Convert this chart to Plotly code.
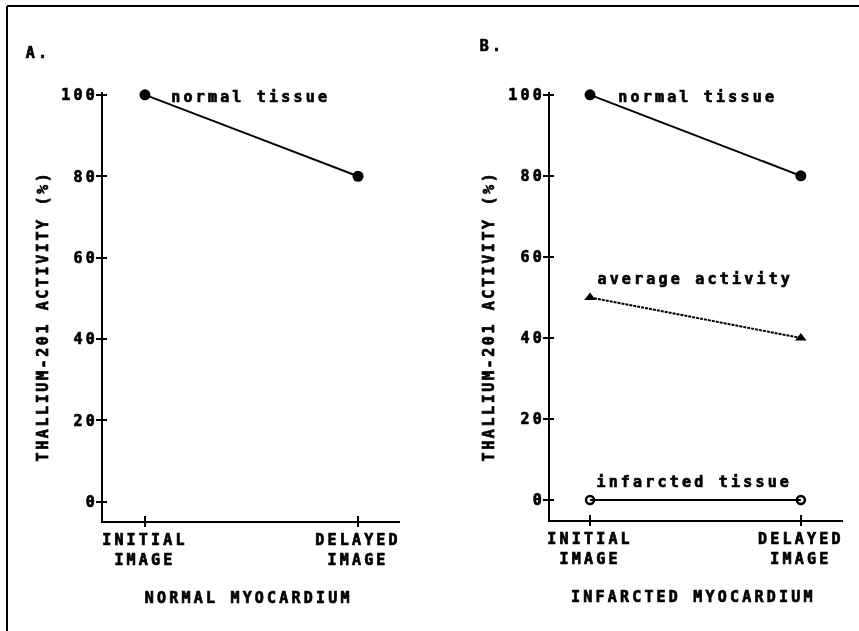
import plotly.graph_objects as go

# ---- data ----
categories = ["INITIAL<br>IMAGE", "DELAYED<br>IMAGE"]
normal_A = [100, 80]
normal_B = [100, 80]
average_B = [50, 40]
infarcted_B = [0, 0]
y_ticks = [0, 20, 40, 60, 80, 100]

W, H = 859, 631
FONT = "DejaVu Sans Mono"
BLACK = "#000000"


def px(x):
    return x / W


def py(y):
    return 1 - y / H


fig = go.Figure()

line_style = dict(color=BLACK, width=2)

fig.add_trace(go.Scatter(x=categories, y=normal_A, mode="lines+markers",
                         line=line_style,
                         marker=dict(symbol="circle", size=11, color=BLACK),
                         xaxis="x", yaxis="y", showlegend=False, cliponaxis=False))
fig.add_trace(go.Scatter(x=categories, y=normal_B, mode="lines+markers",
                         line=line_style,
                         marker=dict(symbol="circle", size=11, color=BLACK),
                         xaxis="x2", yaxis="y2", showlegend=False, cliponaxis=False))
fig.add_trace(go.Scatter(x=categories, y=average_B, mode="lines+markers",
                         line=dict(color=BLACK, width=2, dash="3px,1px"),
                         marker=dict(symbol="triangle-up", size=10, color=BLACK),
                         xaxis="x2", yaxis="y2", showlegend=False, cliponaxis=False))
fig.add_trace(go.Scatter(x=categories, y=infarcted_B, mode="lines+markers",
                         line=line_style,
                         marker=dict(symbol="circle-open", size=8, color=BLACK,
                                     line=dict(width=2.5, color=BLACK)),
                         xaxis="x2", yaxis="y2", showlegend=False, cliponaxis=False))

tick_font = dict(family=FONT, size=15, color=BLACK, weight="bold")

A_x0, A_x1 = 103, 400
B_x0, B_x1 = 550, 843
Y_top = 92
A_ybot, B_ybot = 521, 520

xrange_A = [-0.197, 1.197]
xrange_B = [-0.19, 1.2]
yrange_A = [-4.7, 100.7]
yrange_B = [-4.94, 100.7]

common_x = dict(type="category", showgrid=False, zeroline=False, showline=True,
                linecolor=BLACK, linewidth=2, ticks="outside", ticklen=4,
                tickwidth=2, tickcolor=BLACK, tickfont=tick_font,
                fixedrange=True, automargin=False)
common_y = dict(showgrid=False, zeroline=False, showline=True, linecolor=BLACK,
                linewidth=2, ticks="inside", ticklen=4, tickwidth=2,
                tickcolor=BLACK, tickfont=tick_font, tickvals=y_ticks,
                fixedrange=True, automargin=False)
overlay_common = dict(showgrid=False, zeroline=False, showline=False,
                      tickwidth=2, tickcolor=BLACK, showticklabels=False,
                      fixedrange=True, automargin=False)

fig.update_layout(
    width=W, height=H, autosize=False,
    margin=dict(l=0, r=0, t=0, b=0, autoexpand=False),
    paper_bgcolor="white", plot_bgcolor="white",
    showlegend=False,
    xaxis=dict(common_x, domain=[px(A_x0), px(A_x1)], range=xrange_A, anchor="y"),
    yaxis=dict(common_y, domain=[py(A_ybot), py(Y_top)], range=yrange_A, anchor="x"),
    xaxis2=dict(common_x, domain=[px(B_x0), px(B_x1)], range=xrange_B, anchor="y2"),
    yaxis2=dict(common_y, domain=[py(B_ybot), py(Y_top)], range=yrange_B, anchor="x2"),
    # overlay axes give the other half of each "+" shaped tick
    xaxis3=dict(overlay_common, overlaying="x", type="category", range=xrange_A,
                anchor="y", ticks="inside", ticklen=5, tickvals=categories),
    xaxis4=dict(overlay_common, overlaying="x2", type="category", range=xrange_B,
                anchor="y2", ticks="inside", ticklen=5, tickvals=categories),
    yaxis3=dict(overlay_common, overlaying="y", range=yrange_A, anchor="x",
                ticks="outside", ticklen=6, tickvals=y_ticks),
    yaxis4=dict(overlay_common, overlaying="y2", range=yrange_B, anchor="x2",
                ticks="outside", ticklen=6, tickvals=y_ticks),
)

fig.add_trace(go.Scatter(x=categories, y=normal_A, mode="markers", opacity=0,
                         xaxis="x3", yaxis="y3", showlegend=False, hoverinfo="skip"))
fig.add_trace(go.Scatter(x=categories, y=normal_B, mode="markers", opacity=0,
                         xaxis="x4", yaxis="y4", showlegend=False, hoverinfo="skip"))

label_font = dict(family=FONT, size=15, color=BLACK, weight="bold")


def ann(text, x, y, angle=0):
    fig.add_annotation(text=text, x=px(x), y=py(y), xref="paper", yref="paper",
                       xanchor="center", yanchor="middle", showarrow=False,
                       textangle=angle, font=label_font)


ann("A.", 38, 53)
ann("B.", 492, 46)
ann("normal tissue", 250, 97)
ann("normal tissue", 697, 97)
ann("average activity", 695, 279)
ann("infarcted tissue", 694, 482)
ann("THALLIUM-201 ACTIVITY (%)", 43, 316, -90)
ann("THALLIUM-201 ACTIVITY (%)", 489, 316, -90)
ann("NORMAL MYOCARDIUM", 249, 598)
ann("INFARCTED MYOCARDIUM", 693, 597)

# frame (top and left edges)
fig.add_shape(type="line", xref="paper", yref="paper", x0=px(7), x1=1,
              y0=py(6), y1=py(6), line=dict(color=BLACK, width=2))
fig.add_shape(type="line", xref="paper", yref="paper", x0=px(7), x1=px(7),
              y0=py(6), y1=0, line=dict(color=BLACK, width=2))

post = ("var gd=document.getElementById('{plot_id}');"
        "gd.querySelectorAll('text').forEach(function(t){"
        "var s=(t.textContent.indexOf('THALLIUM')===0)?'2.6px':'3.2px';"
        "t.style.letterSpacing=s;t.style.stroke='#000';t.style.strokeWidth='0.7px';});")

fig.write_html("out.html", config={"displayModeBar": False, "staticPlot": True},
               post_script=post)
